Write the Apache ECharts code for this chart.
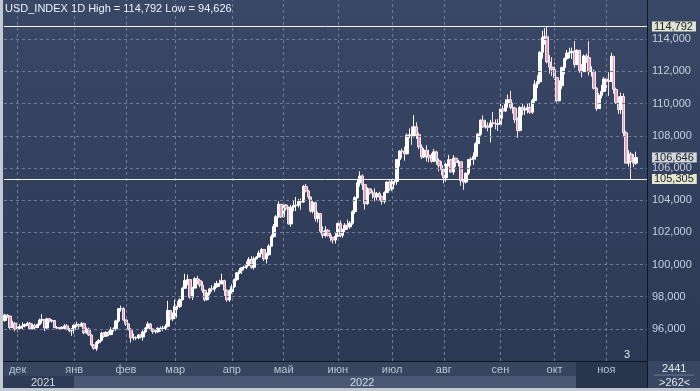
<!DOCTYPE html>
<html><head><meta charset="utf-8">
<script src="https://cdn.jsdelivr.net/npm/echarts@6/dist/echarts.min.js"></script>
<style>html,body{margin:0;padding:0;background:#c5cbd5;}#c{width:700px;height:391px;}</style>
</head><body><div id="c"></div>
<script>
// ---------- data ----------
const startDate = '2021-11-24';   // first bar (weekdays only)
const emptySlots = 4;             // blank slots after the last bar
const monthNames = ['янв','фев','мар','апр','май','июн','июл','авг','сен','окт','ноя','дек'];
const yTicks = [96, 98, 100, 102, 104, 106, 108, 110, 112, 114];
const highLevel = 114.792;
const lowLevel = 105.305;
const lastPrice = 106.646;
const headerText = 'USD_INDEX 1D High = 114,792 Low = 94,626';
const yearLabels = ['2021', '2022'];
const footerTop = '2441';
const footerBottom = '>262<';

const opens = [
96.52,96.85,96.79,96.08,96.35,
95.99,96.04,96.15,96.18,96.27,96.34,96.00,96.21,96.08,96.27,96.54,96.57,96.05,96.62,96.48,96.52,96.08,96.05,96.02,96.09,96.18,95.97,95.88,
95.97,96.22,96.26,96.17,96.32,95.75,95.98,95.62,94.99,94.78,95.15,95.28,95.73,95.54,95.78,95.64,95.93,96.00,96.49,97.25,97.26,
96.55,96.30,95.97,95.44,95.47,95.43,95.62,95.49,95.81,96.05,96.30,95.98,95.83,95.82,96.03,96.02,96.04,96.16,97.14,96.62,
96.71,97.41,97.39,97.81,98.52,99.00,99.06,97.98,98.53,99.12,98.99,98.72,98.39,97.81,98.22,98.48,98.47,98.62,98.81,98.79,98.99,98.40,97.80,
98.31,98.62,99.06,99.48,99.62,99.80,99.83,99.95,100.31,99.82,100.35,100.46,100.70,100.93,100.35,100.60,101.14,101.73,102.36,102.96,103.74,
102.96,103.70,103.46,102.52,103.56,103.66,103.68,103.91,103.88,104.85,104.56,104.19,103.32,103.84,102.86,103.16,102.07,101.81,102.13,101.81,101.67,101.52,
101.76,102.54,101.81,102.17,102.44,102.34,102.57,103.29,104.15,105.08,105.50,104.96,103.78,104.70,104.45,104.43,104.20,104.41,104.21,103.93,104.47,105.12,
104.69,105.14,105.16,106.52,107.05,107.00,106.88,108.03,108.06,108.00,108.56,108.07,107.31,106.68,107.10,106.80,106.63,106.42,107.00,106.45,106.15,
105.91,105.38,106.23,106.51,105.75,106.61,106.35,106.38,105.20,105.12,105.67,106.52,106.55,106.72,107.51,108.10,108.97,108.55,108.62,108.53,108.80,108.78,108.76,
108.70,109.67,109.54,110.01,110.24,109.76,109.72,109.00,108.33,109.76,109.60,109.67,109.76,109.47,110.19,111.21,111.36,113.19,114.10,114.16,112.59,112.27,
112.12,111.62,110.18,111.11,112.24,112.80,113.14,113.18,113.25,112.43,113.31,112.04,111.99,112.96,112.86,111.98,112.00,110.95,109.69,110.52,110.76,
111.53,111.43,111.38,112.93,110.88,110.08,109.63,110.44,108.19,106.30,106.87,106.40,106.30
];
const closes = [
96.85,96.79,96.08,96.35,95.99,
96.04,96.15,96.18,96.27,96.34,96.00,96.21,96.08,96.27,96.54,96.57,96.05,96.62,96.48,96.52,96.08,96.05,96.02,96.09,96.18,95.97,95.88,95.97,
96.22,96.26,96.17,96.32,95.75,95.98,95.62,94.99,94.78,95.15,95.28,95.73,95.54,95.78,95.64,95.93,96.00,96.49,97.25,97.26,96.55,
96.30,95.97,95.44,95.47,95.43,95.62,95.49,95.81,96.05,96.30,95.98,95.83,95.82,96.03,96.02,96.04,96.16,97.14,96.62,96.71,
97.41,97.39,97.81,98.52,99.00,99.06,97.98,98.53,99.12,98.99,98.72,98.39,97.81,98.22,98.48,98.47,98.62,98.81,98.79,98.99,98.40,97.80,98.31,
98.62,99.06,99.48,99.62,99.80,99.83,99.95,100.31,99.82,100.35,100.46,100.70,100.93,100.35,100.60,101.14,101.73,102.36,102.96,103.74,102.96,
103.70,103.46,102.52,103.56,103.66,103.68,103.91,103.88,104.85,104.56,104.19,103.32,103.84,102.86,103.16,102.07,101.81,102.13,101.81,101.67,101.52,101.76,
102.54,101.81,102.17,102.44,102.34,102.57,103.29,104.15,105.08,105.50,104.96,103.78,104.70,104.45,104.43,104.20,104.41,104.21,103.93,104.47,105.12,104.69,
105.14,105.16,106.52,107.05,107.00,106.88,108.03,108.06,108.00,108.56,108.07,107.31,106.68,107.10,106.80,106.63,106.42,107.00,106.45,106.15,105.91,
105.38,106.23,106.51,105.75,106.61,106.35,106.38,105.20,105.12,105.67,106.52,106.55,106.72,107.51,108.10,108.97,108.55,108.62,108.53,108.80,108.78,108.76,108.70,
109.67,109.54,110.01,110.24,109.76,109.72,109.00,108.33,109.76,109.60,109.67,109.76,109.47,110.19,111.21,111.36,113.19,114.10,114.16,112.59,112.27,112.12,
111.62,110.18,111.11,112.24,112.80,113.14,113.18,113.25,112.43,113.31,112.04,111.99,112.96,112.86,111.98,112.00,110.95,109.69,110.52,110.76,111.53,
111.43,111.38,112.93,110.88,110.08,109.63,110.44,108.19,106.30,106.87,106.40,106.30,106.646
];
const lows = [
96.44,96.68,95.97,96.07,95.85,
95.80,95.96,95.94,96.09,96.18,95.94,95.98,95.93,96.04,96.20,96.33,95.85,96.02,96.40,96.39,96.04,95.98,95.96,95.96,95.99,95.90,95.78,95.57,
95.70,96.10,95.98,96.12,95.67,95.70,95.55,94.90,94.70,94.626,95.05,95.22,95.44,95.49,95.55,95.61,95.82,95.88,96.40,97.07,96.49,
96.17,95.90,95.14,95.28,95.30,95.36,95.41,95.27,95.74,96.00,95.91,95.69,95.69,95.74,95.83,95.86,95.92,96.10,96.58,96.48,
96.66,97.18,97.29,97.76,98.50,98.72,97.86,97.80,98.49,98.77,98.58,98.23,97.71,97.76,98.09,98.30,98.31,98.55,98.61,98.78,98.05,97.69,97.68,
98.18,98.55,98.97,99.40,99.41,99.64,99.71,99.90,99.73,99.68,100.32,100.45,100.66,100.22,100.07,100.54,101.11,101.67,102.30,102.89,102.89,
102.93,103.34,102.48,102.35,103.30,103.32,103.54,103.40,103.84,104.48,104.05,103.22,103.18,102.67,102.61,101.95,101.64,101.68,101.73,101.43,101.30,101.30,
101.70,101.69,101.67,102.01,102.16,102.22,102.47,103.14,104.10,104.85,104.63,103.41,103.70,104.34,104.09,103.92,104.00,103.98,103.72,103.79,104.44,104.57,
104.56,104.96,104.96,106.09,106.60,106.45,106.84,107.84,107.43,107.89,107.80,107.16,106.55,106.63,106.39,106.35,106.32,106.36,106.20,105.78,105.54,
105.04,105.15,106.09,105.71,105.58,106.06,106.10,104.90,104.64,105.04,105.56,106.12,106.19,106.51,107.45,108.00,108.50,108.45,108.28,107.59,108.55,108.40,108.30,
108.69,109.06,109.48,109.75,109.63,109.38,108.79,107.87,108.27,109.27,109.30,109.39,109.37,109.36,110.06,110.96,111.24,112.80,113.67,112.50,111.87,111.72,
111.47,110.06,110.14,110.90,111.82,112.69,112.84,112.78,112.23,112.38,111.91,111.63,111.96,112.53,111.75,111.67,110.87,109.54,109.69,110.34,110.70,
110.80,110.48,111.34,110.62,109.97,109.35,109.36,107.96,106.28,106.09,105.305,106.05,106.19
];
const highs = [
96.94,96.92,96.83,96.50,96.43,
96.14,96.30,96.40,96.33,96.44,96.42,96.33,96.31,96.32,96.64,96.91,96.61,96.68,96.67,96.60,96.54,96.18,96.12,96.16,96.29,96.29,96.05,96.05,
96.28,96.45,96.33,96.43,96.38,96.09,96.07,95.64,95.06,95.24,95.36,95.82,95.80,95.85,95.86,96.10,96.09,96.56,97.28,97.44,97.34,
96.59,96.36,96.03,95.70,95.53,95.68,95.67,95.90,96.11,96.44,96.36,96.02,95.96,96.10,96.15,96.19,96.28,97.74,97.16,97.02,
97.80,97.73,97.90,98.62,99.42,99.37,99.06,98.61,99.22,99.30,99.10,98.95,98.46,98.31,98.55,98.72,98.85,98.98,99.06,99.42,99.05,98.45,98.44,
98.77,99.14,99.51,99.77,99.82,99.92,100.18,100.45,100.52,100.49,100.51,100.86,101.03,100.96,100.74,101.26,101.86,102.51,103.07,103.93,103.75,
103.81,103.76,103.61,103.70,103.97,104.19,104.07,104.10,104.94,105.01,104.64,104.25,103.97,103.90,103.29,103.18,102.37,102.37,102.20,101.96,101.72,102.01,
102.61,102.74,102.22,102.57,102.79,102.70,103.36,104.24,105.29,105.79,105.60,105.01,104.79,104.72,104.61,104.73,104.51,104.52,104.28,104.55,105.15,105.24,
105.31,105.24,106.55,107.10,107.20,107.33,108.15,108.45,108.58,109.29,108.84,108.19,107.46,107.23,107.41,107.12,106.92,107.18,107.07,106.60,106.42,
105.99,106.32,106.81,106.55,106.80,106.63,106.50,106.40,105.28,105.72,106.56,106.67,106.96,107.60,108.18,109.01,109.27,108.99,108.83,108.99,109.48,109.02,109.04,
109.99,109.87,110.27,110.56,110.79,110.06,109.80,109.14,109.84,110.02,109.87,110.04,110.03,110.30,111.45,111.76,113.26,114.53,114.68,114.792,113.03,112.88,
112.55,111.66,111.45,112.30,112.86,113.33,113.47,113.48,113.89,113.37,113.34,112.46,113.05,113.10,113.88,112.32,112.13,111.03,110.66,111.16,111.65,
111.62,111.95,113.15,112.98,110.99,110.45,110.67,110.63,108.32,107.12,107.00,106.85,107.01
];

// ---------- categories (weekdays) ----------
const barCount = closes.length;
const categories = [];
{
  let d = new Date(startDate + 'T00:00:00Z');
  while (categories.length < barCount + emptySlots) {
    const wd = d.getUTCDay();
    if (wd !== 0 && wd !== 6) categories.push(d.toISOString().slice(0, 10));
    d = new Date(d.getTime() + 86400000);
  }
}
const monthStart = {};
for (let i = 1; i < barCount; i++) {
  if (categories[i].slice(5, 7) !== categories[i - 1].slice(5, 7)) monthStart[i] = true;
}
const monthStartIdx = Object.keys(monthStart).map(Number);
const lastMonthIdx = monthStartIdx[monthStartIdx.length - 1];
const ohlc = closes.map((c, i) => [opens[i], c, lows[i], highs[i]]);

const fmt = v => v.toFixed(3).replace('.', ',');
const FONT = '"Liberation Sans", Arial, sans-serif';

const chart = echarts.init(document.getElementById('c'));
const W = 700, H = 391, PL = 4, PR = 647, PB = 361;

const tagLabel = (text, bg) => ({
  show: true, position: 'end', distance: 5, fontFamily: FONT, fontSize: 11,
  lineHeight: 9, color: '#1b1f26', padding: [1, 3, 0, 2],
  backgroundColor: bg, formatter: text
});

chart.setOption({
  animation: false,
  backgroundColor: {
    type: 'linear', x: 0, y: 0, x2: 0, y2: 1,
    colorStops: [{ offset: 0, color: '#3a4867' }, { offset: 1, color: '#2b3752' }]
  },
  grid: { left: PL, right: W - PR, top: 0, bottom: H - PB },
  xAxis: {
    type: 'category',
    data: categories,
    boundaryGap: true,
    z: 10,
    axisLine: { show: true, lineStyle: { color: '#0d1422', width: 1 } },
    axisTick: { show: false },
    splitLine: { show: false },
    axisLabel: {
      interval: (idx) => !!monthStart[idx],
      formatter: (val) => monthNames[Number(val.slice(5, 7)) - 1],
      color: (val, idx) => (idx === lastMonthIdx ? '#5f6a86' : '#b9c3d5'),
      fontFamily: FONT, fontSize: 11, margin: 3
    }
  },
  yAxis: {
    type: 'value',
    position: 'right',
    min: 94, max: 116.44, interval: 2,
    z: 10,
    axisLine: { show: true, lineStyle: { color: '#0d1422' } },
    axisTick: { show: false },
    splitLine: { show: false },
    axisLabel: {
      formatter: v => (v >= yTicks[0] && v <= yTicks[yTicks.length - 1] ? fmt(v) : ''),
      color: '#c9d0dd', fontFamily: FONT, fontSize: 11, margin: 5
    }
  },
  graphic: [
    // bottom axis panel
    { type: 'rect', z: 0, shape: { x: PL, y: PB, width: PR - PL, height: 15 }, style: { fill: '#38455f' } },
    { type: 'rect', z: 0, shape: { x: PL, y: PB + 15, width: 70, height: 12 }, style: { fill: '#2f3b56' } },
    { type: 'rect', z: 0, shape: { x: PL + 70, y: PB + 15, width: 576 - PL - 70, height: 12 }, style: { fill: '#4b5874' } },
    { type: 'rect', z: 0, shape: { x: 576, y: PB, width: PR - 576, height: 27 }, style: { fill: '#29344d' } },
    { type: 'rect', z: 0, shape: { x: PR, y: PB, width: W - PR, height: H - PB }, style: { fill: '#3a4763' } },
    { type: 'text', z: 11, left: 31, top: PB + 16, style: { text: yearLabels[0], fill: '#d4dae4', font: '11px ' + FONT } },
    { type: 'text', z: 11, left: 350, top: PB + 16, style: { text: yearLabels[1], fill: '#d4dae4', font: '11px ' + FONT } },
    { type: 'text', z: 11, left: 662, top: PB + 2, style: { text: footerTop, fill: '#e6eaf0', font: '11px ' + FONT } },
    { type: 'line', z: 11, shape: { x1: 654, y1: PB + 14, x2: 694, y2: PB + 14 }, style: { stroke: '#6f7b95', lineWidth: 1 } },
    { type: 'text', z: 11, left: 659, top: PB + 16, style: { text: footerBottom, fill: '#e6eaf0', font: '11px ' + FONT } },
    // separators and frame
    { type: 'line', z: 12, shape: { x1: PR + 0.5, y1: 0, x2: PR + 0.5, y2: H }, style: { stroke: '#0d1422', lineWidth: 1 } },
    { type: 'rect', z: 12, shape: { x: 0, y: 0, width: 3, height: H }, style: { fill: '#c3c9d3' } },
    { type: 'rect', z: 12, shape: { x: 0, y: H - 3, width: W, height: 3 }, style: { fill: '#c3c9d3' } },
    // header and annotation
    { type: 'text', z: 12, left: 5, top: 3, style: { text: headerText, fill: '#eef1f6', font: '11px ' + FONT } },
    { type: 'text', z: 12, left: 624, top: 349, style: { text: '3', fill: '#e6eaf0', font: '11px ' + FONT } }
  ],
  series: [
    {
      type: 'line', data: [], z: 1, silent: true,
      markLine: {
        silent: true, symbol: 'none', animation: false,
        label: { show: false },
        lineStyle: { color: '#6e7c9a', type: [3, 3], width: 1 },
        data: yTicks.map(v => ({ yAxis: v })).concat(monthStartIdx.map(i => ({ xAxis: i })))
      }
    },
    {
      type: 'candlestick', z: 3,
      data: ohlc,
      barWidth: 3,
      itemStyle: {
        color: '#ffffff', color0: '#dfa3bb',
        borderColor: '#ffffff', borderColor0: '#f6e4ec', borderWidth: 1
      },
      markLine: {
        silent: true, symbol: 'none', animation: false,
        data: [
          { yAxis: highLevel, lineStyle: { color: '#f4f6fa', type: 'solid', width: 1 },
            label: tagLabel(fmt(highLevel), '#e2e4d2') },
          { yAxis: lowLevel, lineStyle: { color: '#f4f6fa', type: 'solid', width: 1 },
            label: tagLabel(fmt(lowLevel), '#e4e6cf') }
        ]
      }
    },
    {
      type: 'line', data: [], z: 4, silent: true,
      markLine: {
        silent: true, symbol: 'none', animation: false,
        lineStyle: { color: 'rgba(0,0,0,0)', width: 0 },
        label: tagLabel(fmt(lastPrice), '#d3d7dc'),
        data: [{ yAxis: lastPrice }]
      }
    }
  ]
});
</script></body></html>
